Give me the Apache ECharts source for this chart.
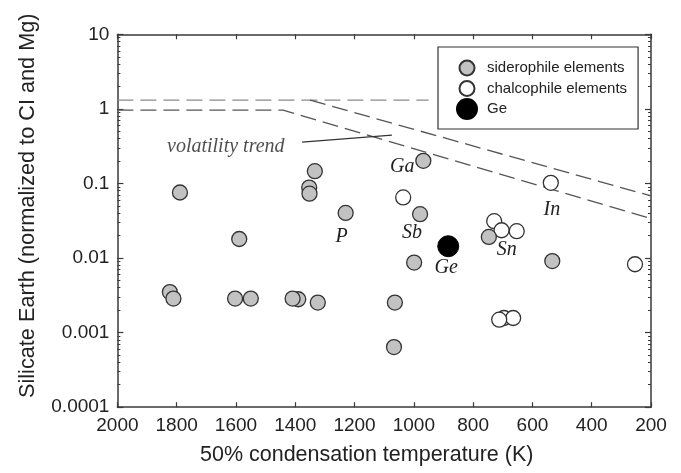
<!DOCTYPE html>
<html>
<head>
<meta charset="utf-8">
<script src="https://cdn.jsdelivr.net/npm/echarts@6/dist/echarts.min.js"></script>
<style>
  html, body { margin: 0; padding: 0; background: #ffffff; }
  #chart { width: 681px; height: 473px; }
</style>
</head>
<body>
<div id="chart"></div>
<script>
// Siderophile elements: 50% condensation temperature (K) vs. silicate Earth abundance
const sideroTemp  = [1789, 1589, 1334, 1353, 1352, 1823, 1811, 1603, 1550, 1390, 1409, 1324, 1064, 1067, 1230, 968, 979, 999, 747, 533];
const sideroValue = [0.0757, 0.018, 0.146, 0.088, 0.073, 0.0035, 0.00286, 0.00286, 0.00286, 0.0028, 0.00286, 0.00253, 0.00253, 0.00064, 0.0403, 0.201, 0.0387, 0.0087, 0.0192, 0.0091];
const sideroName  = ['', '', '', '', '', '', '', '', '', '', '', '', '', '', 'P', 'Ga', 'Sb', '', 'Sn', ''];

// Chalcophile elements
const chalcoTemp  = [1036, 538, 729, 704, 653, 254, 696, 665, 712];
const chalcoValue = [0.0649, 0.102, 0.0312, 0.0236, 0.0229, 0.00826, 0.00157, 0.00157, 0.00149];
const chalcoName  = ['', 'In', '', '', '', '', '', '', ''];

// Germanium
const geTemp  = [884];
const geValue = [0.0144];
const geName  = ['Ge'];

// Volatility trend envelopes
const upperFlatTemp   = [2000, 950];
const upperFlatValue  = [1.31, 1.31];
const upperSlopeTemp  = [1350, 200];
const upperSlopeValue = [1.31, 0.068];
const lowerTrendTemp  = [2000, 1441, 200];
const lowerTrendValue = [0.96, 0.96, 0.0337];
const pointerTemp     = [1377, 1074];
const pointerValue    = [0.358, 0.445];
const trendLabel      = 'volatility trend';

// Axis ranges
const tempMin = 200, tempMax = 2000, tempStep = 200;
const abundMin = 0.0001, abundMax = 10;

// Placement of the italic element labels around their markers
const labelOffsets = {
  P:  [-4, 24],
  Ga: [-21, 6],
  Sb: [-8, 19],
  Sn: [18, 13],
  In: [1, 27],
  Ge: [-2, 22]
};

const sansFont = "'Liberation Sans', Arial, sans-serif";
const serifFont = "'Liberation Serif', 'Times New Roman', serif";

function pairs(xs, ys) { return xs.map((x, i) => [x, ys[i]]); }

function withLabels(xs, ys, names) {
  return xs.map((x, i) => {
    const item = { value: [x, ys[i]], name: names[i] };
    if (names[i]) {
      item.label = {
        show: true,
        formatter: names[i],
        position: 'inside',
        align: 'center',
        verticalAlign: 'middle',
        offset: labelOffsets[names[i]],
        fontFamily: serifFont,
        fontStyle: 'italic',
        fontSize: 20,
        color: '#222'
      };
    }
    return item;
  });
}

// circle icons drawn inside a fixed 24x20 legend cell
const smallCircleIcon = 'path://M0,0 M24,20 M4.5,10 A7.5,7.5 0 1,1 19.5,10 A7.5,7.5 0 1,1 4.5,10 Z';
const bigCircleIcon = 'path://M0,0 M24,20 M2,10 A10,10 0 1,1 22,10 A10,10 0 1,1 2,10 Z';

const dashed = { type: [16, 7], width: 1.3, color: '#555' };
const axisColor = '#3a3a3a';

const chart = echarts.init(document.getElementById('chart'), null, { renderer: 'canvas' });

const commonX = {
  type: 'value', min: tempMin, max: tempMax, interval: tempStep, inverse: true,
  splitLine: { show: false },
  axisLine: { show: true, onZero: false, lineStyle: { color: axisColor, width: 1.5 } },
  axisTick: { show: true, inside: true, length: 5, lineStyle: { color: axisColor, width: 1.2 } }
};
const commonY = {
  type: 'log', logBase: 10, min: abundMin, max: abundMax,
  splitLine: { show: false },
  axisLine: { show: true, onZero: false, lineStyle: { color: axisColor, width: 1.5 } },
  axisTick: { show: true, inside: true, length: 6, lineStyle: { color: axisColor, width: 1.2 } },
  minorTick: { show: true, splitNumber: 9, length: 3, lineStyle: { color: axisColor, width: 1 } }
};

chart.setOption({
  animation: false,
  backgroundColor: '#ffffff',
  grid: { left: 117.4, right: 30, top: 34.3, bottom: 65.8, outerBoundsMode: 'none', containLabel: false },
  xAxis: [
    Object.assign({}, commonX, {
      position: 'bottom',
      name: '50% condensation temperature (K)',
      nameLocation: 'middle',
      nameGap: 37,
      nameTextStyle: { fontFamily: sansFont, fontSize: 21.5, color: '#222', padding: [0, 35, 0, 0] },
      axisLabel: { show: true, margin: 9, fontFamily: sansFont, fontSize: 19, color: '#222', formatter: v => String(v) }
    }),
    Object.assign({}, commonX, {
      position: 'top',
      axisLabel: { show: false }
    })
  ],
  yAxis: [
    Object.assign({}, commonY, {
      position: 'left',
      name: 'Silicate Earth (normalized to CI and Mg)',
      nameLocation: 'middle',
      nameGap: 78,
      nameTextStyle: { fontFamily: sansFont, fontSize: 21.7, color: '#222', padding: [0, 0, 0, 30] },
      axisLabel: {
        show: true, margin: 8, fontFamily: sansFont, fontSize: 19, color: '#222',
        formatter: v => String(v)
      }
    }),
    Object.assign({}, commonY, {
      position: 'right',
      axisLabel: { show: false }
    })
  ],
  legend: {
    orient: 'vertical',
    left: 438,
    top: 47,
    padding: [10, 11, 9, 16],
    itemWidth: 24,
    itemHeight: 20,
    itemGap: -1.5,
    borderColor: '#333',
    borderWidth: 1.2,
    borderRadius: 0,
    backgroundColor: '#ffffff',
    textStyle: { fontFamily: sansFont, fontSize: 15, color: '#222', padding: [0, 0, 0, 3] },
    data: [
      { name: 'siderophile elements', icon: smallCircleIcon },
      { name: 'chalcophile elements', icon: smallCircleIcon },
      { name: 'Ge', icon: bigCircleIcon }
    ]
  },
  series: [
    {
      type: 'line', silent: true, symbol: 'none', z: 1,
      data: pairs(upperFlatTemp, upperFlatValue),
      lineStyle: { type: [16, 7], width: 1.3, color: '#8a8a8a' }
    },
    {
      type: 'line', silent: true, symbol: 'none', z: 1,
      data: pairs(upperSlopeTemp, upperSlopeValue),
      lineStyle: dashed
    },
    {
      type: 'line', silent: true, symbol: 'none', z: 1,
      data: pairs(lowerTrendTemp, lowerTrendValue),
      lineStyle: dashed
    },
    {
      type: 'line', silent: true, symbol: 'none', z: 1,
      data: pairs(pointerTemp, pointerValue),
      lineStyle: { type: 'solid', width: 1.2, color: '#333' }
    },
    {
      // caption at the start of the pointer line
      type: 'scatter', silent: true, symbol: 'circle', symbolSize: 1, z: 1,
      data: [{
        value: [pointerTemp[0], pointerValue[0]],
        label: {
          show: true, formatter: trendLabel, position: 'left', distance: 17, offset: [0, 5],
          fontFamily: serifFont, fontStyle: 'italic', fontSize: 20, color: '#222'
        }
      }],
      itemStyle: { color: 'transparent' }
    },
    {
      name: 'chalcophile elements',
      type: 'scatter', symbol: 'circle', symbolSize: 15, z: 3,
      data: withLabels(chalcoTemp, chalcoValue, chalcoName),
      itemStyle: { color: '#ffffff', borderColor: '#333', borderWidth: 1.3, opacity: 1 }
    },
    {
      name: 'siderophile elements',
      type: 'scatter', symbol: 'circle', symbolSize: 15, z: 4,
      data: withLabels(sideroTemp, sideroValue, sideroName),
      itemStyle: { color: '#c2c2c2', borderColor: '#333', borderWidth: 1.3, opacity: 1 }
    },
    {
      name: 'Ge',
      type: 'scatter', symbol: 'circle', symbolSize: 21, z: 5,
      data: withLabels(geTemp, geValue, geName),
      itemStyle: { color: '#000000', borderColor: '#000000', borderWidth: 1, opacity: 1 }
    }
  ]
});
</script>
</body>
</html>
